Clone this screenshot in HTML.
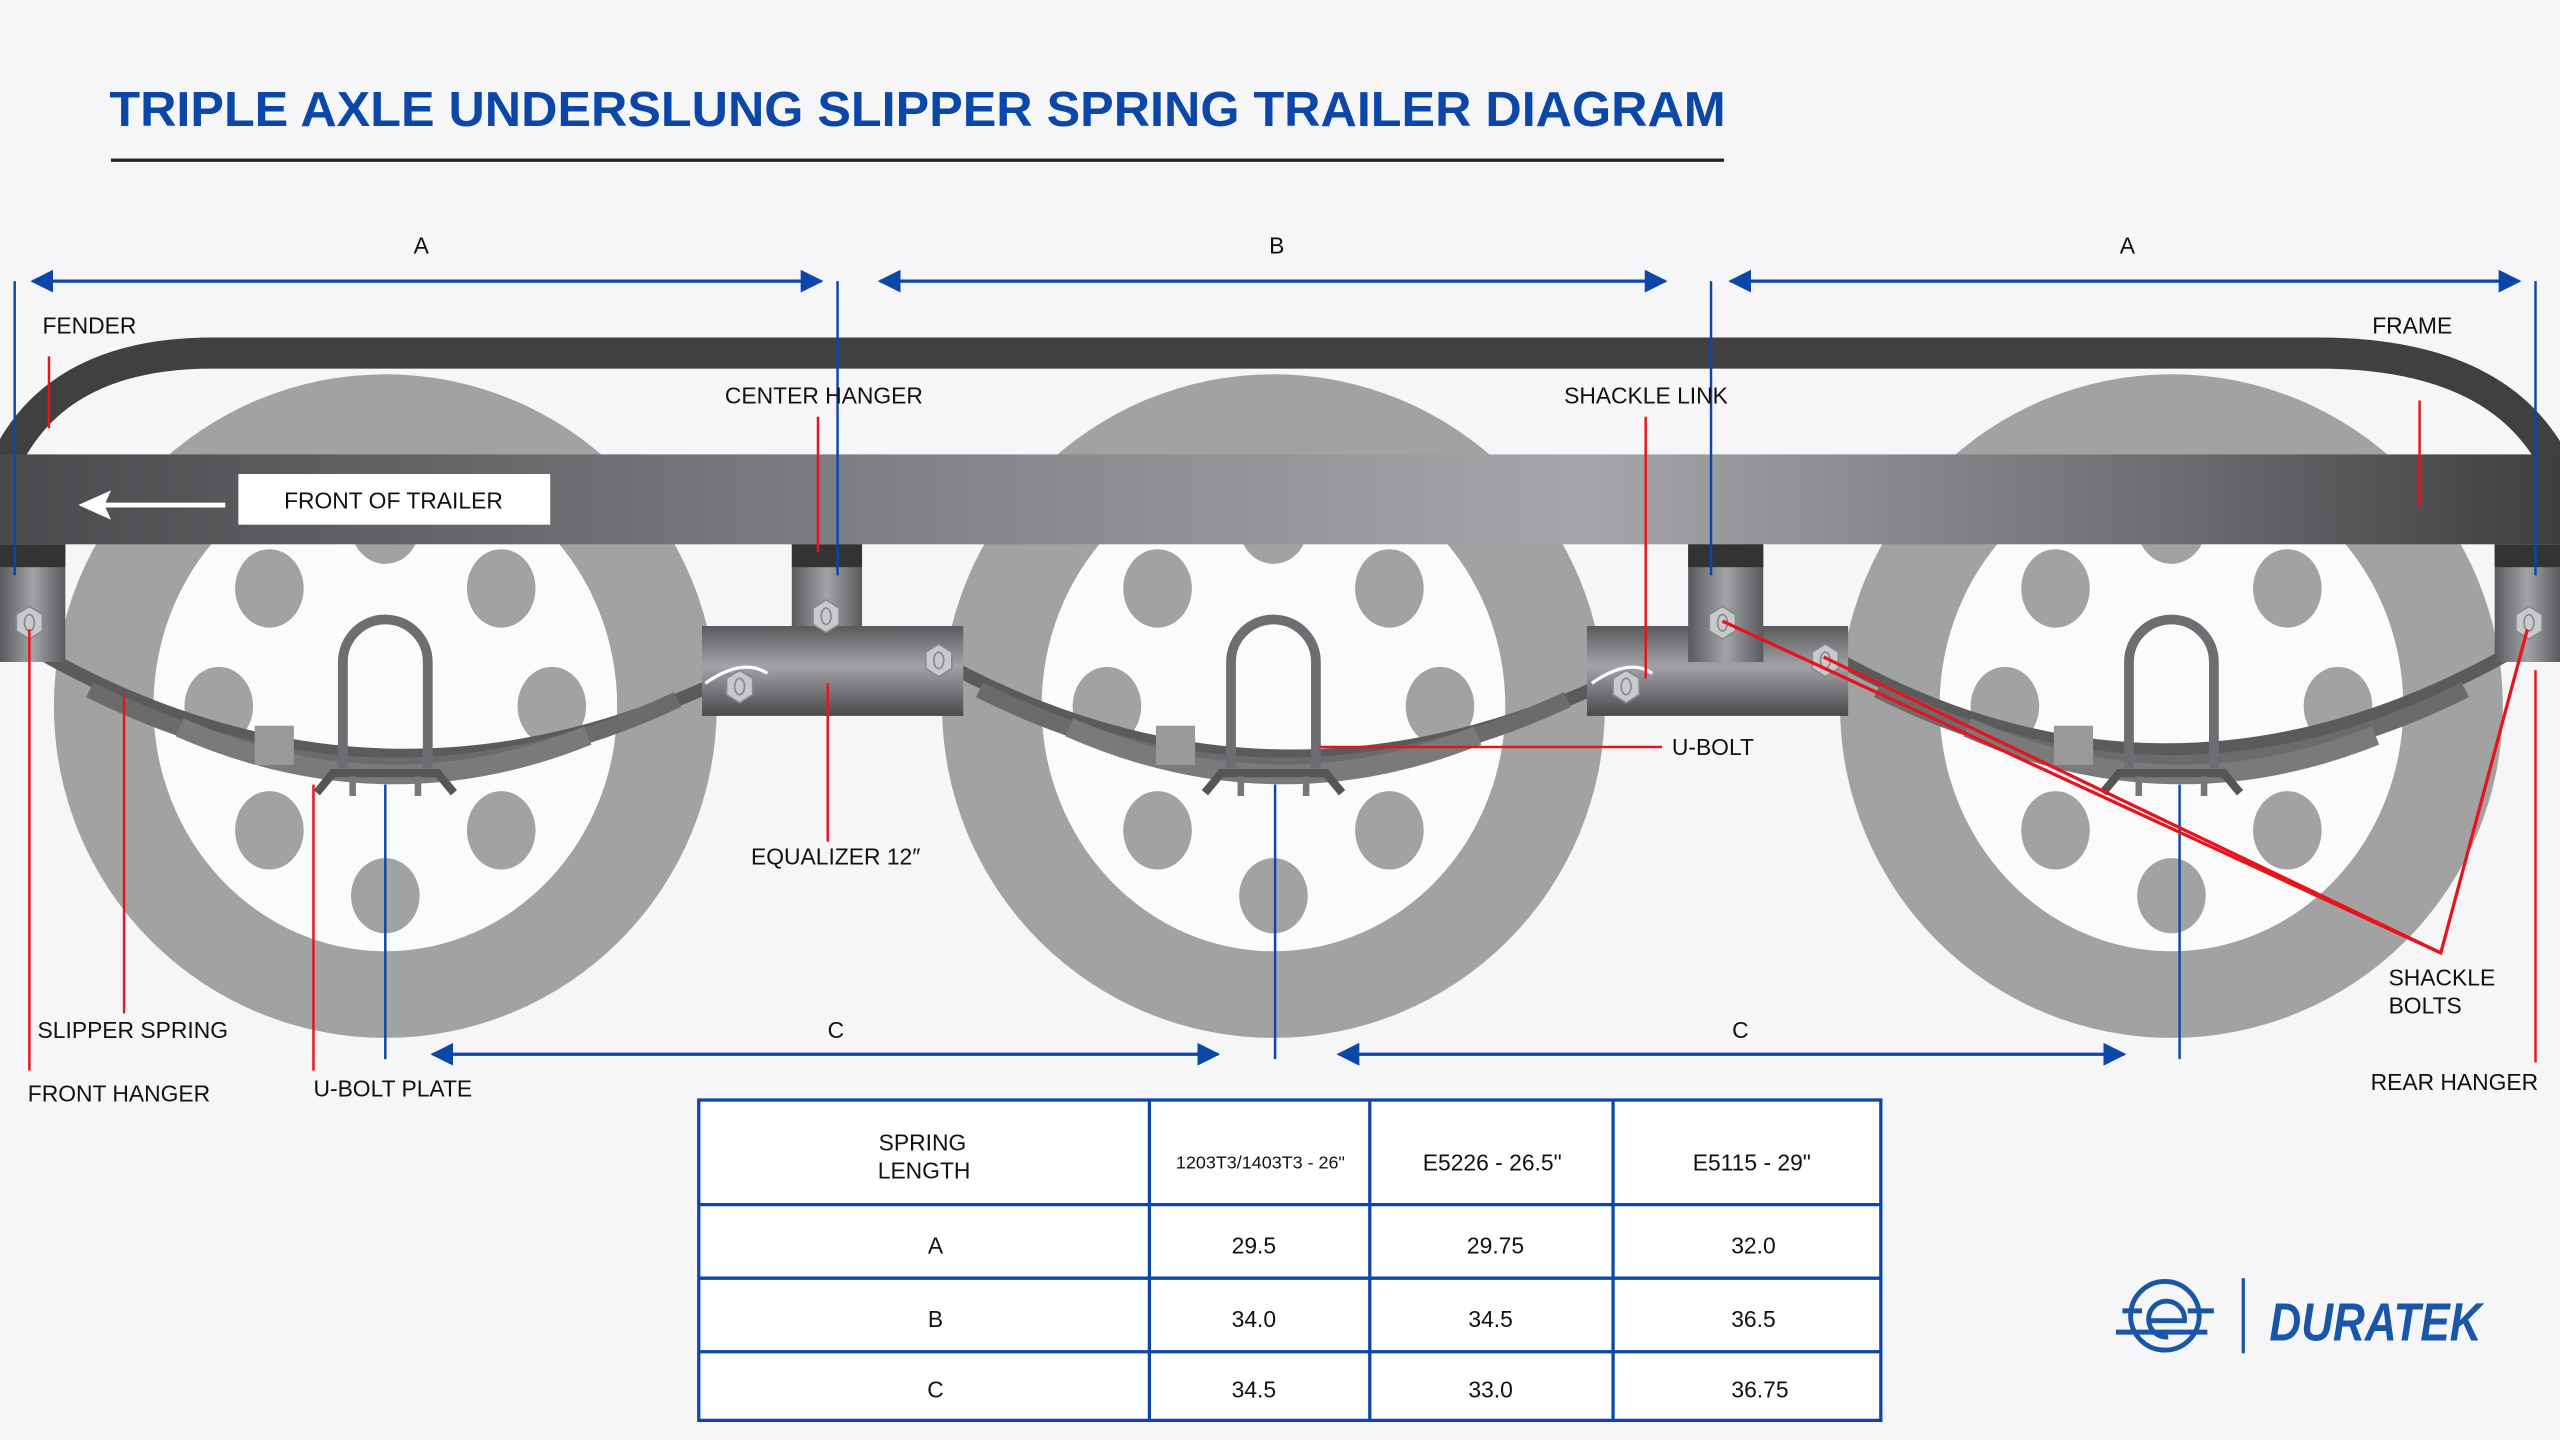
<!DOCTYPE html>
<html><head><meta charset="utf-8"><style>
html,body{margin:0;padding:0;background:#f6f6f9;}
svg{display:block;}
text{font-family:"Liberation Sans",sans-serif;}
</style></head><body>
<svg width="2560" height="1440" viewBox="0 0 1568 881" preserveAspectRatio="none" xmlns="http://www.w3.org/2000/svg">
<defs>
<linearGradient id="frame" x1="0" x2="1" y1="0" y2="0">
<stop offset="0" stop-color="#4a4a4d"/><stop offset="0.4" stop-color="#88898d"/><stop offset="0.62" stop-color="#a4a6aa"/><stop offset="0.85" stop-color="#6c6d70"/><stop offset="1" stop-color="#3e3e40"/>
</linearGradient>
<linearGradient id="metal" x1="0" x2="0" y1="0" y2="1">
<stop offset="0" stop-color="#5a5a5d"/><stop offset="0.45" stop-color="#a2a3a7"/><stop offset="1" stop-color="#4a4a4d"/>
</linearGradient>
<linearGradient id="metalh" x1="0" x2="1" y1="0" y2="0">
<stop offset="0" stop-color="#5a5a5d"/><stop offset="0.5" stop-color="#a2a3a7"/><stop offset="1" stop-color="#5a5a5d"/>
</linearGradient>
<g id="wheel">
<ellipse cx="0" cy="0" rx="203" ry="203" fill="#a2a2a2"/>
<ellipse cx="0" cy="0" rx="142" ry="150" fill="#fbfbfc"/>
<g fill="#a2a2a2">
<ellipse cx="0" cy="-110" rx="21" ry="23"/>
<ellipse cx="-71" cy="-72" rx="21" ry="24"/><ellipse cx="71" cy="-72" rx="21" ry="24"/>
<ellipse cx="-102" cy="0" rx="21" ry="24"/><ellipse cx="102" cy="0" rx="21" ry="24"/>
<ellipse cx="-71" cy="76" rx="21" ry="24"/><ellipse cx="71" cy="76" rx="21" ry="24"/>
<ellipse cx="0" cy="116" rx="21" ry="23"/>
</g>
</g>
<g id="ubolt">
<path d="M-26,85 V20 A26,26 0 0 1 26,20 V85" fill="none" stroke="#6d6e71" stroke-width="6"/>
<path d="M-42,100 L-32,88 H32 L42,100" fill="none" stroke="#555" stroke-width="5"/>
<rect x="-22" y="90" width="4" height="12" fill="#777"/><rect x="18" y="90" width="4" height="12" fill="#777"/>
</g>
<g id="nut"><polygon points="0,-10 8,-5 8,5 0,10 -8,5 -8,-5" fill="#c8c9cc" stroke="#888" stroke-width="1"/><ellipse cx="0" cy="0" rx="3" ry="5" fill="none" stroke="#888"/></g>
<marker id="ar" viewBox="0 0 10 10" refX="9" refY="5" markerWidth="7" markerHeight="7" orient="auto-start-reverse"><path d="M0,0 L10,5 L0,10 z" fill="#0a47a8"/></marker>
</defs>
<rect width="1568" height="881" fill="#f6f6f9"/>
<text x="67" y="77" font-size="30" fill="#0a47a8" textLength="990" lengthAdjust="spacingAndGlyphs" style="font-weight:bold">TRIPLE AXLE UNDERSLUNG SLIPPER SPRING TRAILER DIAGRAM</text>
<rect x="68" y="97" width="988" height="2" fill="#222"/>

<use href="#wheel" x="236" y="432"/>
<use href="#wheel" x="780" y="432"/>
<use href="#wheel" x="1330" y="432"/>

<path d="M0,290 Q30,216 130,216 H1420 Q1535,216 1568,290" fill="none" stroke="#404042" stroke-width="19"/>
<rect x="0" y="278" width="1568" height="55" fill="url(#frame)"/>
<rect x="146" y="290" width="191" height="31" fill="#fff"/>
<text x="241" y="311" font-size="14" text-anchor="middle" fill="#111">FRONT OF TRAILER</text>
<line x1="60" y1="309" x2="138" y2="309" stroke="#fff" stroke-width="3"/>
<path d="M48,309 L68,300 L64,309 L68,318 z" fill="#fff"/>

<!-- springs -->
<g fill="none" stroke-linecap="butt">
<path d="M22,398 Q236,520 455,410" stroke-width="8" stroke="#5b5b5e"/>
<path d="M55,422 Q236,512 415,428" stroke-width="10" stroke="#6b6b6e"/>
<path d="M110,445 Q236,500 360,450" stroke-width="12" stroke="#7a7a7d"/>
<path d="M568,400 Q780,520 1000,410" stroke-width="8" stroke="#5b5b5e"/>
<path d="M600,422 Q780,512 960,428" stroke-width="10" stroke="#6b6b6e"/>
<path d="M655,445 Q780,500 905,450" stroke-width="12" stroke="#7a7a7d"/>
<path d="M1120,400 Q1330,520 1545,395" stroke-width="8" stroke="#5b5b5e"/>
<path d="M1150,422 Q1330,512 1510,422" stroke-width="10" stroke="#6b6b6e"/>
<path d="M1205,445 Q1330,500 1455,450" stroke-width="12" stroke="#7a7a7d"/>
</g>
<rect x="156" y="444" width="24" height="24" fill="#999"/>
<rect x="708" y="444" width="24" height="24" fill="#999"/>
<rect x="1258" y="444" width="24" height="24" fill="#999"/>
<use href="#ubolt" x="236" y="385"/>
<use href="#ubolt" x="780" y="385"/>
<use href="#ubolt" x="1330" y="385"/>

<!-- hangers -->
<rect x="0" y="333" width="40" height="72" fill="url(#metalh)"/><rect x="0" y="333" width="40" height="14" fill="#333"/>
<rect x="485" y="333" width="43" height="52" fill="url(#metalh)"/><rect x="485" y="333" width="43" height="14" fill="#333"/>
<rect x="430" y="383" width="160" height="55" fill="url(#metal)"/>
<rect x="1034" y="333" width="46" height="72" fill="url(#metalh)"/><rect x="1034" y="333" width="46" height="14" fill="#333"/>
<rect x="972" y="383" width="160" height="55" fill="url(#metal)"/>
<rect x="1034" y="383" width="46" height="22" fill="url(#metalh)"/>
<rect x="1528" y="333" width="40" height="72" fill="url(#metalh)"/><rect x="1528" y="333" width="40" height="14" fill="#333"/>
<use href="#nut" x="18" y="381"/><use href="#nut" x="506" y="377"/><use href="#nut" x="575" y="404"/><use href="#nut" x="453" y="420"/>
<use href="#nut" x="1055" y="381"/><use href="#nut" x="1118" y="404"/><use href="#nut" x="996" y="420"/><use href="#nut" x="1549" y="381"/>
<path d="M432,418 Q455,402 470,412" fill="none" stroke="#fff" stroke-width="2"/>
<path d="M975,418 Q998,402 1012,412" fill="none" stroke="#fff" stroke-width="2"/>

<!-- dimensions -->
<g stroke="#0a47a8" stroke-width="2" fill="none">
<line x1="20" y1="172" x2="503" y2="172" marker-start="url(#ar)" marker-end="url(#ar)"/>
<line x1="539" y1="172" x2="1020" y2="172" marker-start="url(#ar)" marker-end="url(#ar)"/>
<line x1="1060" y1="172" x2="1543" y2="172" marker-start="url(#ar)" marker-end="url(#ar)"/>
<line x1="265" y1="645" x2="746" y2="645" marker-start="url(#ar)" marker-end="url(#ar)"/>
<line x1="820" y1="645" x2="1301" y2="645" marker-start="url(#ar)" marker-end="url(#ar)"/>
</g>
<g stroke="#0a47a8" stroke-width="1.5">
<line x1="9" y1="172" x2="9" y2="352"/><line x1="513" y1="172" x2="513" y2="352"/>
<line x1="1048" y1="172" x2="1048" y2="352"/><line x1="1553" y1="172" x2="1553" y2="352"/>
<line x1="236" y1="480" x2="236" y2="648"/><line x1="781" y1="480" x2="781" y2="648"/><line x1="1335" y1="480" x2="1335" y2="648"/>
</g>
<g font-size="14" fill="#111" text-anchor="middle">
<text x="258" y="155">A</text><text x="782" y="155">B</text><text x="1303" y="155">A</text>
<text x="512" y="635">C</text><text x="1066" y="635">C</text>
</g>

<!-- red leaders -->
<g stroke="#e8141c" stroke-width="1.5" fill="none">
<line x1="30" y1="218" x2="30" y2="262"/><line x1="501" y1="255" x2="501" y2="338"/>
<line x1="1008" y1="255" x2="1008" y2="415"/><line x1="1482" y1="245" x2="1482" y2="310"/>
<line x1="18" y1="385" x2="18" y2="655"/><line x1="76" y1="425" x2="76" y2="620"/>
<line x1="192" y1="480" x2="192" y2="655"/><line x1="507" y1="418" x2="507" y2="515"/>
<line x1="808" y1="457" x2="1018" y2="457"/><line x1="1553" y1="410" x2="1553" y2="650"/>
<path d="M1055,380 L1495,583 L1548,385" stroke-width="2"/>
<line x1="1117" y1="402" x2="1495" y2="583" stroke-width="2"/>
</g>
<g font-size="14" fill="#111">
<text x="26" y="204">FENDER</text><text x="444" y="247">CENTER HANGER</text>
<text x="958" y="247">SHACKLE LINK</text><text x="1453" y="204">FRAME</text>
<text x="460" y="529">EQUALIZER 12″</text><text x="1024" y="462">U-BOLT</text>
<text x="23" y="635">SLIPPER SPRING</text><text x="17" y="674">FRONT HANGER</text>
<text x="192" y="671">U-BOLT PLATE</text><text x="1463" y="603">SHACKLE</text><text x="1463" y="620">BOLTS</text>
<text x="1452" y="667">REAR HANGER</text>
</g>

<!-- table -->
<rect x="428" y="673" width="724" height="196" fill="#fff" stroke="#0a47a8" stroke-width="2"/>
<g stroke="#0a47a8" stroke-width="2">
<line x1="704" y1="673" x2="704" y2="869"/><line x1="839" y1="673" x2="839" y2="869"/><line x1="988" y1="673" x2="988" y2="869"/>
<line x1="428" y1="737" x2="1152" y2="737"/><line x1="428" y1="782" x2="1152" y2="782"/><line x1="428" y1="827" x2="1152" y2="827"/>
</g>
<g font-size="14" fill="#111" text-anchor="middle">
<text x="565" y="704">SPRING</text><text x="566" y="721">LENGTH</text>
<text x="772" y="715" font-size="11">1203T3/1403T3 - 26"</text><text x="914" y="716">E5226 - 26.5"</text><text x="1073" y="716">E5115 - 29"</text>
<text x="573" y="767">A</text><text x="768" y="767">29.5</text><text x="916" y="767">29.75</text><text x="1074" y="767">32.0</text>
<text x="573" y="812">B</text><text x="768" y="812">34.0</text><text x="913" y="812">34.5</text><text x="1074" y="812">36.5</text>
<text x="573" y="855">C</text><text x="768" y="855">34.5</text><text x="913" y="855">33.0</text><text x="1078" y="855">36.75</text>
</g>

<!-- logo -->
<g stroke="#1a56a8" stroke-width="3" fill="none">
<circle cx="1326" cy="805" r="21"/>
<path d="M1316,808 H1338 A11,11 0 1 0 1328,818"/>
<line x1="1296" y1="815" x2="1352" y2="815"/><line x1="1300" y1="802" x2="1312" y2="802"/><line x1="1340" y1="802" x2="1356" y2="802"/>
</g>
<rect x="1373" y="782" width="2" height="46" fill="#1a56a8"/>
<text x="1390" y="820" font-size="33" font-weight="bold" font-style="italic" fill="#1a56a8" textLength="130" lengthAdjust="spacingAndGlyphs">DURATEK</text>
</svg>
</body></html>
